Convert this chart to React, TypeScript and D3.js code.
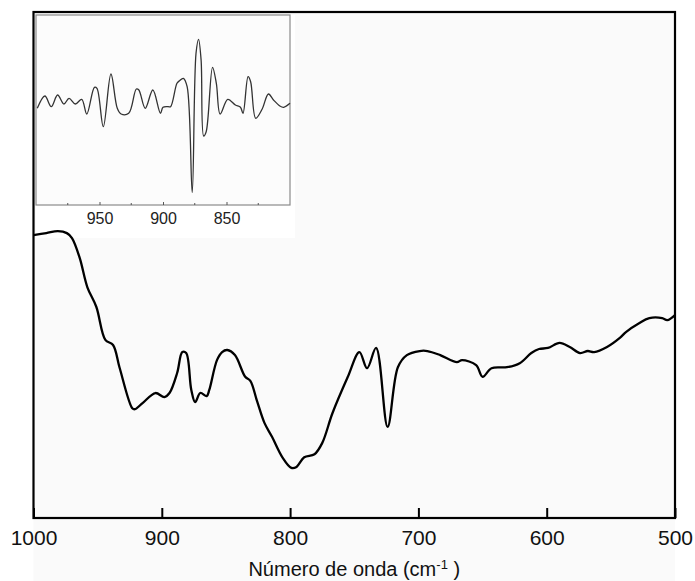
import React, { useEffect, useRef } from 'react';
import * as d3 from 'd3';

// main IR spectrum (wavenumber cm-1, transmittance a.u.)
const mainWave = [1000, 990, 981, 974, 970, 964, 958, 951, 944, 938, 933, 923, 921, 915, 905, 898, 894, 888, 884, 881, 877, 874, 870, 865, 863, 857, 853, 849, 843, 835, 831, 826, 820, 814, 806, 799, 795, 789, 781, 775, 767, 755, 746, 740, 733, 724, 716, 709, 699, 693, 683, 670, 666, 655, 650, 643, 631, 621, 612, 606, 599, 590, 582, 574, 568, 563, 553, 543, 538, 528, 520, 510, 506, 500];
const mainValue = [55.9, 56.3, 56.7, 56.3, 55.3, 51.4, 45.6, 41.7, 35.2, 34.2, 29.8, 21.7, 21.5, 22.7, 24.7, 23.9, 24.7, 28.7, 32.8, 32.6, 25.3, 22.9, 24.7, 24.1, 25.3, 31.2, 32.8, 33.2, 32.2, 27.9, 27.1, 23.3, 18.8, 16.0, 12.0, 9.9, 10.1, 12.0, 12.6, 14.8, 20.7, 27.9, 32.8, 29.6, 33.6, 18.0, 29.8, 32.2, 33.0, 33.0, 32.2, 30.8, 31.2, 30.2, 27.9, 29.6, 29.8, 30.6, 32.6, 33.4, 33.6, 34.6, 33.8, 32.6, 33.0, 32.8, 33.8, 35.6, 36.8, 38.5, 39.5, 39.5, 39.1, 40.1];

// inset: second derivative, 1000-800 cm-1
const insetWave = [999, 993, 988, 983, 978, 974, 969, 964, 960, 954, 952, 947, 941, 936, 933, 927, 921, 919, 914, 908, 902, 900, 896, 894, 889, 887, 884, 881, 877, 874, 872, 870, 868, 866, 861, 858, 855, 849, 843, 839, 837, 833, 831, 827, 822, 817, 813, 808, 805, 800];
const insetValue = [0.17, 1.4, 0.33, 1.5, 0.6, 1.17, 0.6, 1.07, -0.4, 2.27, 2.17, -1.67, 3.6, 0.17, -0.4, -0.33, 2.1, 2.0, 0.17, 2.0, -0.33, 0.27, 0.33, 0.33, 2.67, 2.93, 3.17, 2.33, -8.27, 5.67, 7.07, 5.0, -2.6, -2.17, 4.27, 2.67, -0.4, 1.07, 0.5, 0.27, -0.33, 3.33, 2.83, -0.83, 0.07, 1.6, 1.0, 0.4, 0.27, 0.67];

const mainTicks = [1000, 900, 800, 700, 600, 500];
const insetTicks = [950, 900, 850];
const insetMinorTicks = [975, 925, 875, 825];

const W = 695;
const H = 581;

const App = () => {
  const ref = useRef<SVGSVGElement>(null);

  useEffect(() => {
    if (!ref.current) return;
    const svg = d3.select(ref.current);
    svg.selectAll('*').remove();

    const font = 'Liberation Sans, Arial, sans-serif';
    const plot = { left: 33.5, right: 675, top: 12, bottom: 518 };
    const inset = { left: 36, right: 290, top: 15, bottom: 205 };

    svg.append('rect').attr('width', W).attr('height', H).attr('fill', '#fff');
    svg.append('rect')
      .attr('x', plot.left).attr('y', plot.top)
      .attr('width', plot.right - plot.left).attr('height', H - plot.top)
      .attr('fill', '#fafafa');
    // white patch behind the inset and its labels
    svg.append('rect')
      .attr('x', inset.left).attr('y', inset.top)
      .attr('width', 259).attr('height', 223)
      .attr('fill', '#fff');

    const x = d3.scaleLinear().domain([1000, 500]).range([plot.left, plot.right]);
    const y = d3.scaleLinear().domain([0, 100]).range([plot.bottom, plot.top]);

    // main curve
    const line = d3.line<number>()
      .x((d, i) => x(mainWave[i]))
      .y(d => y(d))
      .curve(d3.curveCatmullRom.alpha(0.5));
    svg.append('path')
      .attr('d', line(mainValue))
      .attr('fill', 'none')
      .attr('stroke', '#000')
      .attr('stroke-width', 2.3)
      .attr('stroke-linejoin', 'round');

    // inset
    svg.append('rect')
      .attr('x', inset.left).attr('y', inset.top)
      .attr('width', inset.right - inset.left).attr('height', inset.bottom - inset.top)
      .attr('fill', '#fcfcfc')
      .attr('stroke', '#8a8a8a')
      .attr('stroke-width', 1.2);

    const xi = d3.scaleLinear().domain([1000, 800]).range([inset.left, inset.right]);
    const yi = d3.scaleLinear().domain([-9.5, 9.5]).range([inset.bottom, inset.top]);

    const insetLine = d3.line<number>()
      .x((d, i) => xi(insetWave[i]))
      .y(d => yi(d))
      .curve(d3.curveCatmullRom.alpha(0.5));
    svg.append('path')
      .attr('d', insetLine(insetValue))
      .attr('fill', 'none')
      .attr('stroke', '#333')
      .attr('stroke-width', 1.3);

    const insetAxis = svg.append('g')
      .attr('transform', `translate(0,${inset.bottom})`)
      .call(d3.axisBottom(xi).tickValues(insetTicks).tickFormat(d3.format('d')).tickSizeInner(-3).tickSizeOuter(0).tickPadding(8));
    insetAxis.select('.domain').remove();
    insetAxis.selectAll('line').attr('stroke', '#555');
    insetAxis.selectAll('text')
      .attr('font-family', font).attr('font-size', 16).attr('fill', '#222');
    svg.append('g')
      .selectAll('line')
      .data(insetMinorTicks)
      .join('line')
      .attr('x1', d => xi(d)).attr('x2', d => xi(d))
      .attr('y1', inset.bottom).attr('y2', inset.bottom - 2)
      .attr('stroke', '#555');

    // main x axis
    const xAxis = svg.append('g')
      .attr('transform', `translate(0,${plot.bottom})`)
      .call(d3.axisBottom(x).tickValues(mainTicks).tickFormat(d3.format('d')).tickSizeInner(-10).tickSizeOuter(0).tickPadding(12));
    xAxis.select('.domain').remove();
    xAxis.selectAll('line').attr('stroke', '#000').attr('stroke-width', 2);
    xAxis.selectAll('text')
      .attr('font-family', font).attr('font-size', 21).attr('fill', '#111');

    // frame
    svg.append('rect')
      .attr('x', plot.left).attr('y', plot.top)
      .attr('width', plot.right - plot.left).attr('height', plot.bottom - plot.top)
      .attr('fill', 'none')
      .attr('stroke', '#000')
      .attr('stroke-width', 2.2);

    // axis title
    const title = svg.append('text')
      .attr('x', (plot.left + plot.right) / 2)
      .attr('y', 576)
      .attr('text-anchor', 'middle')
      .attr('font-family', font)
      .attr('font-size', 20)
      .attr('fill', '#111');
    title.append('tspan').text('Número de onda (cm');
    title.append('tspan').attr('dy', -7).attr('font-size', 13).text('-1');
    title.append('tspan').attr('dy', 7).text(' )');
  }, []);

  return (
    <svg
      ref={ref}
      width={W}
      height={H}
      style={{ position: 'absolute', left: 0, top: 0, display: 'block' }}
    />
  );
};

export default App;
